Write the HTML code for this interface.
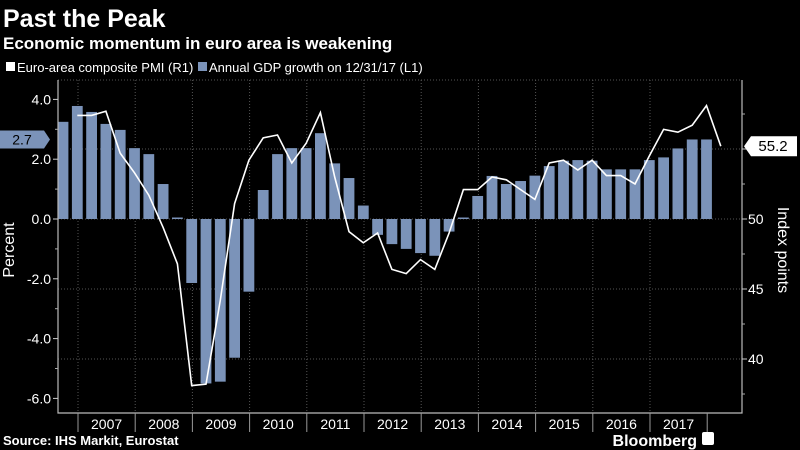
<!DOCTYPE html>
<html><head><meta charset="utf-8"><style>
body{margin:0;background:#000;width:800px;height:450px;overflow:hidden;font-family:"Liberation Sans",sans-serif;}
svg{display:block}
</style></head><body>
<svg width="800" height="450" xmlns="http://www.w3.org/2000/svg">
<text x="3" y="27" fill="#fff" font-size="25" font-weight="bold">Past the Peak</text>
<text x="3" y="49" fill="#fff" font-size="17" font-weight="bold">Economic momentum in euro area is weakening</text>
<g font-size="13" fill="#fff">
<rect x="6" y="62" width="9" height="9" fill="#fff"/>
<text x="17" y="72">Euro-area composite PMI (R1)</text>
<rect x="198" y="62" width="9" height="9" fill="#7b93b9"/>
<text x="209" y="72">Annual GDP growth on 12/31/17 (L1)</text>
</g>
<g id="grid"></g><g id="bars"></g><g id="line"></g><g id="axes"></g>
<text transform="translate(14,250) rotate(-90)" text-anchor="middle" fill="#fff" font-size="16">Percent</text>
<text transform="translate(778,250) rotate(90)" text-anchor="middle" fill="#fff" font-size="16">Index points</text>
<text x="3" y="445" fill="#fff" font-size="13" font-weight="bold">Source: IHS Markit, Eurostat</text>
<text x="697" y="446" fill="#fff" font-size="16" font-weight="bold" text-anchor="end">Bloomberg</text>
<rect x="702" y="432" width="12" height="13" rx="2" fill="#fff"/>
</svg>
<script>
const gdp=[3.25,3.78,3.58,3.18,2.98,2.37,2.17,1.17,0.05,-2.14,-5.5,-5.44,-4.64,-2.43,0.97,2.17,2.37,2.37,2.87,1.86,1.37,0.45,-0.53,-0.84,-1.0,-1.14,-1.23,-0.42,0.05,0.77,1.44,1.17,1.27,1.45,1.77,1.95,1.97,1.95,1.66,1.66,1.66,1.97,2.06,2.36,2.66,2.66];
const pmi=[57.4,57.4,57.7,54.7,53.3,51.7,49.4,46.8,38.1,38.2,44.2,51.1,54.2,55.8,56.0,54.0,55.4,57.6,53.0,49.1,48.3,49.0,46.4,46.1,47.1,46.4,49.0,52.1,52.1,53.0,52.8,52.1,51.4,54.0,54.2,53.5,54.2,53.1,53.1,52.5,54.5,56.4,56.2,56.7,58.1,55.2];
const years=["2007","2008","2009","2010","2011","2012","2013","2014","2015","2016","2017"];
const leftTicks=[4,2,0,-2,-4,-6];
const rightTicks=[55,50,45,40];
const ns="http://www.w3.org/2000/svg";
const X0=58,X1=742,Y0=80,YB=413;
const xq=i=>63+14.3*i;
const yL=v=>219-29.9*v;
const yR=v=>219-14*(v-50);
function mk(t,a,p){const e=document.createElementNS(ns,t);for(const k in a)e.setAttribute(k,a[k]);document.getElementById(p).appendChild(e);return e;}
rightTicks.forEach(t=>{const e=mk('line',{x1:X0,x2:X1,y1:yR(t),y2:yR(t),stroke:'#555','stroke-dasharray':'1,2'},'grid');

});
mk('line',{x1:X0,x2:X1,y1:Y0,y2:Y0,stroke:'#555','stroke-dasharray':'1,2'},'grid');
years.forEach((y,j)=>{const x=78+57.2*j;const e=mk('line',{x1:x,x2:x,y1:Y0,y2:YB,stroke:'#555','stroke-dasharray':'1,2'},'grid');

});
gdp.forEach((v,i)=>{const y=Math.min(yL(v),yL(0)),h=Math.abs(yL(v)-yL(0));
const r=mk('rect',{x:xq(i)-5.4,y:y,width:10.8,height:Math.max(h,1),fill:'#7b93b9'},'bars');

});
const pl=mk('polyline',{points:pmi.map((v,i)=>xq(i+1)+','+yR(v)).join(' '),fill:'none',stroke:'#fff','stroke-width':1.6},'line');


const ax=mk('path',{d:`M${X0},${Y0} V${YB} H${X1} V${Y0}`,fill:'none',stroke:'#bbb','stroke-width':1.2},'axes');


leftTicks.forEach(t=>{const y=yL(t);mk('line',{x1:X0-5,x2:X0,y1:y,y2:y,stroke:'#ccc'},'axes');
const tx=mk('text',{x:X0-7,y:y+5,fill:'#fff','font-size':14,'text-anchor':'end'},'axes');tx.textContent=t.toFixed(1);

});
[3,1,-1,-3,-5].forEach(t=>mk('line',{x1:X0-3,x2:X0,y1:yL(t),y2:yL(t),stroke:'#aaa'},'axes'));
rightTicks.forEach(t=>{const y=yR(t);mk('line',{x1:X1,x2:X1+5,y1:y,y2:y,stroke:'#ccc'},'axes');
if(t!==55){const tx=mk('text',{x:X1+6,y:y+5,fill:'#fff','font-size':14},'axes');tx.textContent=t;

}});
[57.5,52.5,47.5,42.5,37.5].forEach(t=>mk('line',{x1:X1,x2:X1+3,y1:yR(t),y2:yR(t),stroke:'#aaa'},'axes'));
years.forEach((y,j)=>{const x=78+57.2*j;mk('line',{x1:x,x2:x,y1:YB,y2:YB+19,stroke:'#999'},'axes');
const tx=mk('text',{x:x+28.6,y:YB+16,fill:'#fff','font-size':14,'text-anchor':'middle'},'axes');tx.textContent=y;

});
mk('line',{x1:78+57.2*11,x2:78+57.2*11,y1:YB,y2:YB+19,stroke:'#999'},'axes');
const last=gdp[gdp.length-1];const ly=yL(last);
const lt=mk('path',{d:`M0,${ly-9} H44 L50,${ly} L44,${ly+9} H0 Z`,fill:'#7b93b9'},'axes');


const ltx=mk('text',{x:22,y:ly+5,fill:'#000','font-size':14,'text-anchor':'middle'},'axes');
ltx.textContent='2.7';
const lp=pmi[pmi.length-1];const ry=yR(lp);
const rt=mk('path',{d:`M${X1+2},${ry} L${X1+9},${ry-10} H797 V${ry+10} H${X1+9} Z`,fill:'#fff'},'axes');


const rtx=mk('text',{x:773,y:ry+5,fill:'#000','font-size':15,'text-anchor':'middle'},'axes');rtx.textContent=lp.toFixed(1);
</script>
</body></html>
